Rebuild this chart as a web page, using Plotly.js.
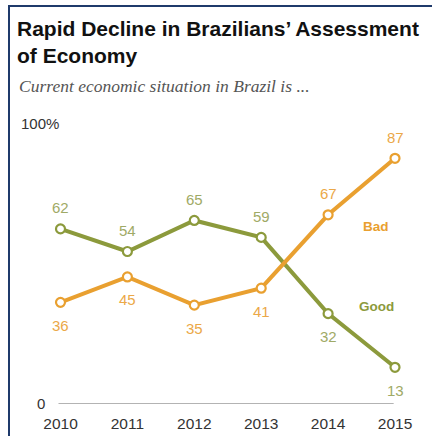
<!DOCTYPE html>
<html>
<head>
<meta charset="utf-8">
<script src="https://cdn.plot.ly/plotly-3.0.1.min.js"></script>
<style>
html,body{margin:0;padding:0;background:#fff;}
#chart{width:432px;height:436px;}
</style>
</head>
<body>
<div id="chart"></div>
<script>
const years = [2010, 2011, 2012, 2013, 2014, 2015];
const good = [62, 54, 65, 59, 32, 13];
const bad = [36, 45, 35, 41, 67, 87];
const goodLabelAbove = [true, true, true, true, false, false];
const badLabelAbove = [false, false, false, false, true, true];
const yTickLabels = ['0', '100%'];

const orange = '#E9A030';
const green = '#8C9A3C';
const orangeText = '#EBA848';
const greenText = '#9FAA66';

const W = 432, H = 436;
const m = {l: 40, r: 20, t: 110, b: 32};
const pw = W - m.l - m.r, ph = H - m.t - m.b;
const px = v => (v - m.l) / pw;
const py = v => (H - m.b - v) / ph;

const traces = [
  {x: years, y: good, mode: 'lines+markers', name: 'Good',
   line: {color: green, width: 4},
   marker: {symbol: 'circle', size: 9, color: '#ffffff', line: {color: green, width: 2.2}},
   cliponaxis: false, hoverinfo: 'skip'},
  {x: years, y: bad, mode: 'lines+markers', name: 'Bad',
   line: {color: orange, width: 4},
   marker: {symbol: 'circle', size: 9, color: '#ffffff', line: {color: orange, width: 2.2}},
   cliponaxis: false, hoverinfo: 'skip'}
];

const lblFont = c => ({family: 'Liberation Sans, Arial, sans-serif', size: 15, color: c});
const annotations = [];
years.forEach((yr, i) => {
  annotations.push({x: yr, y: good[i], text: String(good[i]), showarrow: false,
    yshift: goodLabelAbove[i] ? 21 : -23, font: lblFont(greenText)});
  annotations.push({x: yr, y: bad[i], text: String(bad[i]), showarrow: false,
    yshift: badLabelAbove[i] ? 21 : -23, font: lblFont(orangeText)});
});
// series names
annotations.push({x: 2014.72, y: 62.7, text: '<b>Bad</b>', showarrow: false,
  font: {family: 'Liberation Sans, Arial, sans-serif', size: 13.5, color: orange}});
annotations.push({x: 2014.72, y: 34.5, text: '<b>Good</b>', showarrow: false,
  font: {family: 'Liberation Sans, Arial, sans-serif', size: 13.5, color: green}});
// y labels
annotations.push({xref: 'paper', x: px(47), xanchor: 'right', y: 0, yanchor: 'middle', yshift: 1,
  text: yTickLabels[0], showarrow: false, font: lblFont('#333333')});
annotations.push({xref: 'paper', x: px(19), xanchor: 'left', y: 100, yanchor: 'middle', yshift: -2,
  text: yTickLabels[1], showarrow: false, font: lblFont('#333333')});
// title
annotations.push({xref: 'paper', yref: 'paper', x: px(16), xanchor: 'left', y: py(16), yanchor: 'top',
  align: 'left', borderpad: 0,
  text: '<b>Rapid Decline in Brazilians’ Assessment<br>of Economy</b>', showarrow: false,
  font: {family: 'Liberation Sans, Arial, sans-serif', size: 21, color: '#111111'}});
// subtitle
annotations.push({xref: 'paper', yref: 'paper', x: px(17), xanchor: 'left', y: py(86), yanchor: 'middle',
  text: '<i>Current economic situation in Brazil is ...</i>', showarrow: false,
  font: {family: 'Liberation Serif, Times New Roman, serif', size: 17.5, color: '#555555'}});

const shapes = [
  // baseline
  {type: 'line', xref: 'x', yref: 'y', x0: years[0] - 0.03, x1: years[years.length - 1] - 0.02, y0: 0, y1: 0,
   line: {color: '#9a9a9a', width: 1.5}, layer: 'below'},
  // frame left
  {type: 'line', xref: 'paper', yref: 'paper', x0: px(9), x1: px(9), y0: py(5.5), y1: py(437),
   line: {color: '#1F3A6B', width: 2}},
  // frame top
  {type: 'line', xref: 'paper', yref: 'paper', x0: px(8), x1: px(433), y0: py(6), y1: py(6),
   line: {color: '#1F3A6B', width: 2}}
];

const x0 = 2010 - (60.5 - m.l) / 66.9;
const x1 = x0 + pw / 66.9;
const yTop = ph / 2.824;

const layout = {
  width: W, height: H, margin: m,
  paper_bgcolor: '#ffffff', plot_bgcolor: '#ffffff',
  showlegend: false,
  xaxis: {range: [x0, x1], tickvals: years, ticktext: years.map(String), showgrid: false,
    zeroline: false, showline: false, ticks: '', ticklabelstandoff: 8,
    tickfont: {family: 'Liberation Sans, Arial, sans-serif', size: 15.5, color: '#333333'}},
  yaxis: {range: [0, yTop], showgrid: false, zeroline: false, showline: false,
    showticklabels: false, ticks: ''},
  annotations: annotations,
  shapes: shapes
};

Plotly.newPlot('chart', traces, layout, {staticPlot: true, displayModeBar: false});
</script>
</body>
</html>
